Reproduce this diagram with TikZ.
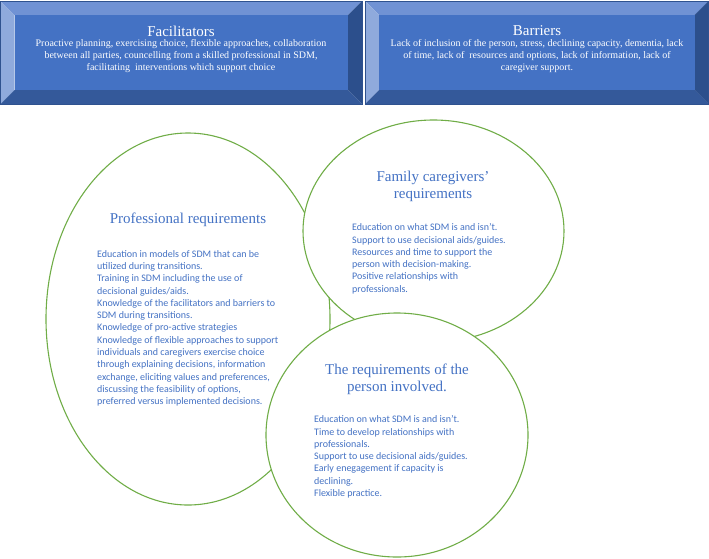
\documentclass[tikz,border=0pt]{standalone}
\usepackage{fontspec}
\setmainfont{Liberation Serif}
\newfontfamily\bodyfont{Carlito}
\usetikzlibrary{shapes.geometric}
\definecolor{face}{HTML}{4472C4}
\definecolor{bevtop}{HTML}{7092D4}
\definecolor{bevleft}{HTML}{8FAADC}
\definecolor{bevright}{HTML}{2C4F8C}
\definecolor{bevbot}{HTML}{34599A}
\definecolor{edge}{HTML}{2F528F}
\definecolor{ring}{HTML}{70AD47}
\definecolor{txtblue}{HTML}{4472C4}
\newcommand\bevbox[4]{%
  \fill[bevtop] (#1,#2) -- (#3,#2) -- (#3-14,#2+14) -- (#1+14,#2+14) -- cycle;
  \fill[bevleft] (#1,#2) -- (#1+14,#2+14) -- (#1+14,#4-14) -- (#1,#4) -- cycle;
  \fill[bevright] (#3,#2) -- (#3,#4) -- (#3-14,#4-14) -- (#3-14,#2+14) -- cycle;
  \fill[bevbot] (#1,#4) -- (#1+14,#4-14) -- (#3-14,#4-14) -- (#3,#4) -- cycle;
  \fill[face] (#1+14,#2+14) rectangle (#3-14,#4-14);
  \draw[edge,line width=0.8pt] (#1,#2) rectangle (#3,#4);
}
\tikzset{
  boxtitle/.style={text=white,font=\fontsize{15}{17}\selectfont,inner sep=0pt},
  boxbody/.style={text=white,font=\fontsize{10}{12}\selectfont,align=center,inner sep=0pt},
  ring/.style={ellipse,draw=ring,fill=white,line width=1.1pt,inner sep=0pt},
  ctitle/.style={text=txtblue,font=\fontsize{15}{17}\selectfont,align=center,inner sep=0pt},
  cbody/.style={text=txtblue,font=\bodyfont\fontsize{10}{12.3}\selectfont,align=left,inner sep=0pt,anchor=north west}
}
\begin{document}
\begin{tikzpicture}[x=1pt,y=-1pt]
\useasboundingbox (0,0) rectangle (709,558);
\bevbox{0.5}{1}{362}{104}
\bevbox{365}{1}{708.5}{104}
\node[boxtitle] (factitle) at (181,31) {Facilitators};
\node[boxbody] (facbody) at (181,56) {Proactive planning, exercising choice, flexible approaches, collaboration\\between all parties, councelling from a skilled professional in SDM,\\facilitating\ \ interventions which support choice};
\node[boxtitle] (bartitle) at (537,31) {Barriers};
\node[boxbody] (barbody) at (537,56) {Lack of inclusion of the person, stress, declining capacity, dementia, lack\\of time, lack of\ \ resources and options, lack of information, lack of\\caregiver support.};
\node[ring,minimum width=284pt,minimum height=372pt] (prof) at (188,319) {};
\node[ring,minimum width=261pt,minimum height=222pt] (fam) at (433.5,231) {};
\node[ring,minimum width=262pt,minimum height=244pt] (pers) at (397,435) {};
\node[ctitle] (proftitle) at (188,220) {Professional requirements};
\node[cbody] (profbody) at (97,250) {Education in models of SDM that can be\\utilized during transitions.\\Training in SDM including the use of\\decisional guides/aids.\\Knowledge of the facilitators and barriers to\\SDM during transitions.\\Knowledge of pro-active strategies\\Knowledge of flexible approaches to support\\individuals and caregivers exercise choice\\through explaining decisions, information\\exchange, eliciting values and preferences,\\discussing the feasibility of options,\\preferred versus implemented decisions.};
\node[ctitle] (famtitle) at (433,186) {Family caregivers’\\requirements};
\node[cbody] (fambody) at (352,223.5) {Education on what SDM is and isn’t.\\Support to use decisional aids/guides.\\Resources and time to support the\\person with decision-making.\\Positive relationships with\\professionals.};
\node[ctitle] (perstitle) at (397,379) {The requirements of the\\person involved.};
\node[cbody] (persbody) at (314,415.5) {Education on what SDM is and isn’t.\\Time to develop relationships with\\professionals.\\Support to use decisional aids/guides.\\Early enegagement if capacity is\\declining.\\Flexible practice.};
\end{tikzpicture}
\end{document}
